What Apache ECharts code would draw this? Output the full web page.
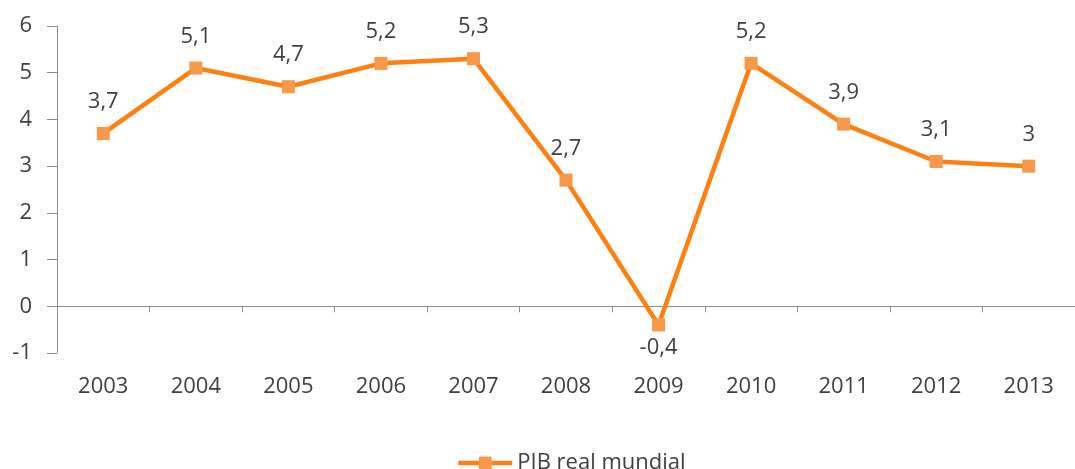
<!DOCTYPE html>
<html>
<head>
<meta charset="utf-8">
<script src="https://cdn.jsdelivr.net/npm/echarts@6/dist/echarts.min.js"></script>
<style>html,body{margin:0;padding:0;background:#fff}#c{width:1075px;height:469px}</style>
</head>
<body>
<div id="c"></div>
<script>
var categories = ['2003','2004','2005','2006','2007','2008','2009','2010','2011','2012','2013'];
var values = [3.7, 5.1, 4.7, 5.2, 5.3, 2.7, -0.4, 5.2, 3.9, 3.1, 3.0];
var seriesName = 'PIB real mundial';

var FONT = '"Open Sans", sans-serif';
var TXT = '#404040';
var AX = '#8c8c8c';
var LINE = '#ff8010';
var MARK = '#f8984a';

var chart = echarts.init(document.getElementById('c'), null, {renderer: 'canvas'});
chart.setOption({
  animation: false,
  backgroundColor: '#fff',
  grid: {left: 57, right: -11, top: 26, bottom: 116, containLabel: false},
  xAxis: {
    type: 'category',
    data: categories,
    boundaryGap: true,
    axisLine: {onZero: true, lineStyle: {color: AX, width: 1}},
    axisTick: {show: true, length: 6, interval: 0, lineStyle: {color: AX}},
    axisLabel: {margin: 23, fontSize: 22, color: TXT, fontFamily: FONT, interval: 0},
    splitLine: {show: false}
  },
  yAxis: {
    type: 'value',
    min: -1, max: 6, interval: 1,
    axisLine: {show: true, lineStyle: {color: AX, width: 1}},
    axisTick: {show: true, length: 10, lineStyle: {color: AX}},
    axisLabel: {margin: 25, fontSize: 22, color: TXT, fontFamily: FONT},
    splitLine: {show: false}
  },
  legend: {
    data: [seriesName],
    left: 456, top: 452,
    padding: 0,
    itemWidth: 54, itemHeight: 16,
    itemGap: 5,
    itemStyle: {color: MARK},
    lineStyle: {color: LINE, width: 4.5},
    textStyle: {fontSize: 22, color: TXT, fontFamily: FONT}
  },
  series: [{
    name: seriesName,
    type: 'line',
    data: values.map(function (v) {
      var d = {value: v};
      if (v < 0) d.label = {position: 'bottom', distance: 5};
      return d;
    }),
    symbol: 'rect',
    symbolSize: 13,
    lineStyle: {color: LINE, width: 4.5},
    itemStyle: {color: MARK},
    label: {
      show: true, position: 'top', distance: 14,
      fontSize: 22, color: TXT, fontFamily: FONT,
      formatter: function (p) { return String(p.value).replace('.', ','); }
    }
  }]
});
</script>
</body>
</html>
